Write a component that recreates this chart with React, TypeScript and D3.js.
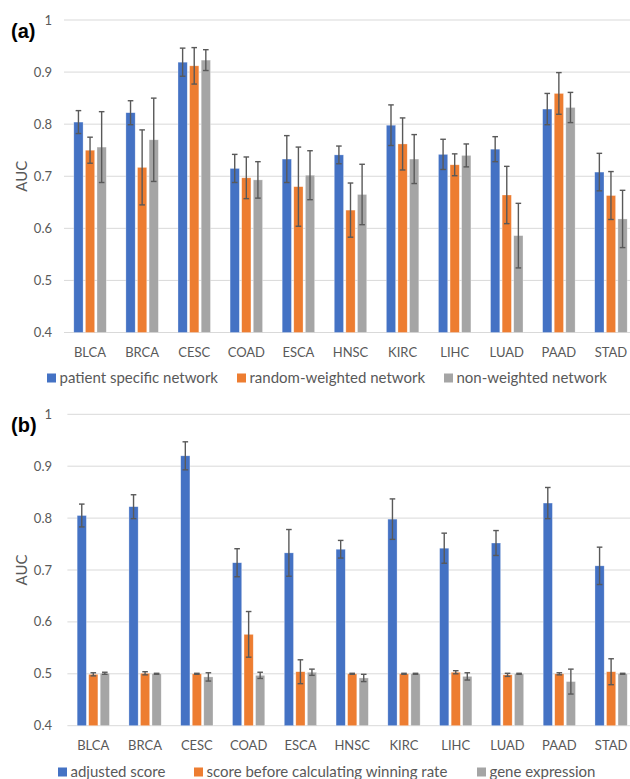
import * as d3 from 'd3';

const cancers = ['BLCA', 'BRCA', 'CESC', 'COAD', 'ESCA', 'HNSC', 'KIRC', 'LIHC', 'LUAD', 'PAAD', 'STAD'];
const yTicks = [0.4, 0.5, 0.6, 0.7, 0.8, 0.9, 1];

// panel (a)
const patientSpecific = [0.804, 0.822, 0.919, 0.715, 0.733, 0.741, 0.798, 0.742, 0.752, 0.829, 0.708];
const patientSpecificErr = [0.022, 0.023, 0.027, 0.027, 0.045, 0.017, 0.039, 0.029, 0.024, 0.030, 0.036];
const randomWeighted = [0.750, 0.717, 0.912, 0.697, 0.680, 0.635, 0.762, 0.722, 0.664, 0.859, 0.663];
const randomWeightedErr = [0.025, 0.072, 0.035, 0.040, 0.076, 0.052, 0.050, 0.021, 0.055, 0.040, 0.046];
const nonWeighted = [0.756, 0.770, 0.923, 0.693, 0.702, 0.665, 0.733, 0.740, 0.586, 0.832, 0.618];
const nonWeightedErr = [0.068, 0.080, 0.020, 0.035, 0.047, 0.058, 0.047, 0.022, 0.062, 0.029, 0.055];

// panel (b)
const adjustedScore = [0.805, 0.822, 0.920, 0.714, 0.733, 0.740, 0.798, 0.742, 0.752, 0.829, 0.708];
const adjustedScoreErr = [0.022, 0.023, 0.027, 0.027, 0.045, 0.017, 0.039, 0.029, 0.024, 0.030, 0.036];
const beforeWinning = [0.499, 0.501, 0.500, 0.576, 0.504, 0.500, 0.500, 0.503, 0.498, 0.500, 0.504];
const beforeWinningErr = [0.003, 0.003, 0.001, 0.044, 0.023, 0.001, 0.001, 0.003, 0.003, 0.002, 0.025];
const geneExpression = [0.501, 0.500, 0.494, 0.497, 0.503, 0.492, 0.500, 0.495, 0.500, 0.485, 0.500];
const geneExpressionErr = [0.002, 0.001, 0.008, 0.006, 0.006, 0.007, 0.001, 0.007, 0.001, 0.024, 0.001];

const colors = ['#4472C4', '#ED7D31', '#A5A5A5'];
const textColor = '#595959';
const font = 'Lato, "Open Sans", sans-serif';

type Series = { name: string, values: number[], errors: number[] };

function Panel({ tag, top, bottom, left, right, series, legendY, legendX }:
	{ tag: string, top: number, bottom: number, left: number, right: number, series: Series[], legendY: number, legendX: number[] }) {

	const y = d3.scaleLinear().domain([0.4, 1]).range([bottom, top]);
	const x = d3.scaleBand().domain(cancers).range([left, right]);
	const groupW = x.bandwidth() * 0.668;
	const inner = d3.scaleBand<number>()
		.domain(series.map((_, i) => i))
		.range([-groupW / 2, groupW / 2])
		.paddingInner(0.2)
		.paddingOuter(0.1);

	return (
		<g>
			<text x={11} y={top + 18} fontSize={20} fontWeight='bold' fontFamily='Arial, sans-serif' fill='#000'>{tag}</text>
			{yTicks.map(t => (
				<g key={t}>
					<line x1={left} x2={630} y1={y(t)} y2={y(t)} stroke='#d9d9d9' strokeWidth={1} />
					<text x={52} y={y(t)} dy='0.35em' textAnchor='end' fontSize={13} fill={textColor} fontFamily={font}>{t === 1 ? '1' : t.toFixed(1)}</text>
				</g>
			))}
			<text transform={`translate(27,${(top + bottom) / 2}) rotate(-90)`} textAnchor='middle' fontSize={15} fill={textColor} fontFamily={font}>AUC</text>
			{cancers.map((c, ci) => {
				const cx = x(c)! + x.bandwidth() / 2;
				return (
					<g key={c}>
						{series.map((s, si) => {
							const bx = cx + inner(si)!;
							const v = s.values[ci];
							const e = s.errors[ci];
							const mx = bx + inner.bandwidth() / 2;
							return (
								<g key={si}>
									<rect x={bx} y={y(v)} width={inner.bandwidth()} height={y(0.4) - y(v)} fill={colors[si]} stroke='#ffffff' strokeOpacity={0.5} strokeWidth={0.6} />
									<line x1={mx} x2={mx} y1={y(v + e)} y2={y(v - e)} stroke={textColor} strokeWidth={1.4} />
									<line x1={mx - 2.8} x2={mx + 2.8} y1={y(v + e)} y2={y(v + e)} stroke={textColor} strokeWidth={1.4} />
									<line x1={mx - 2.8} x2={mx + 2.8} y1={y(v - e)} y2={y(v - e)} stroke={textColor} strokeWidth={1.4} />
								</g>
							);
						})}
						<text x={cx} y={bottom + 24} textAnchor='middle' fontSize={13} fill={textColor} fontFamily={font}>{c}</text>
					</g>
				);
			})}
			{series.map((s, si) => (
				<g key={s.name} transform={`translate(${legendX[si]},${legendY})`}>
					<rect x={0} y={-4.5} width={9} height={9} fill={colors[si]} />
					<text x={12.5} y={0} dy='0.35em' fontSize={15} fill={textColor} fontFamily={font}>{s.name}</text>
				</g>
			))}
		</g>
	);
}

export default function App() {
	const seriesA: Series[] = [
		{ name: 'patient specific network', values: patientSpecific, errors: patientSpecificErr },
		{ name: 'random-weighted network', values: randomWeighted, errors: randomWeightedErr },
		{ name: 'non-weighted network', values: nonWeighted, errors: nonWeightedErr },
	];
	const seriesB: Series[] = [
		{ name: 'adjusted score', values: adjustedScore, errors: adjustedScoreErr },
		{ name: 'score before calculating winning rate', values: beforeWinning, errors: beforeWinningErr },
		{ name: 'gene expression', values: geneExpression, errors: geneExpressionErr },
	];

	return (
		<svg width={630} height={779} style={{ position: 'absolute', left: 0, top: 0, background: '#fff' }}>
			<rect width={630} height={779} fill='#fff' />
			<Panel tag='(a)' top={20} bottom={332.5} left={64} right={637} series={seriesA} legendY={378} legendX={[47, 237, 444]} />
			<Panel tag='(b)' top={414.3} bottom={725.7} left={67.4} right={637} series={seriesB} legendY={772} legendX={[58, 194, 477]} />
		</svg>
	);
}
